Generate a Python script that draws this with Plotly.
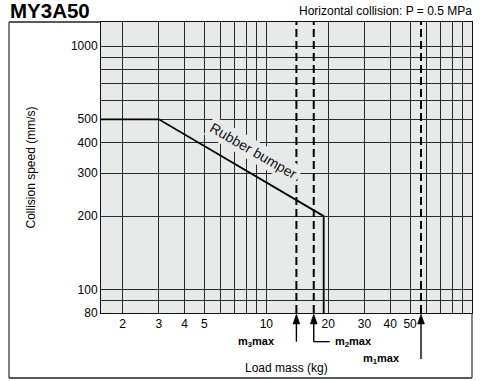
import math
import plotly.graph_objects as go

# ---- data ----
x_ticks = [2, 3, 4, 5, 10, 20, 30, 40, 50]
x_labels = ["2", "3", "4", "5", "10", "20", "30", "40", "50"]
x_minor = [6, 7, 8, 9, 60, 70, 80, 90]
y_ticks = [80, 100, 200, 300, 400, 500, 1000]
y_labels = ["80", "100", "200", "300", "400", "500", "1000"]
y_minor = [90, 600, 700, 800, 900]

bumper_mass = [1.57, 3, 19, 19]
bumper_speed = [500, 500, 200, 80]

limit_names = ["m<sub>3</sub>max", "m<sub>2</sub>max", "m<sub>1</sub>max"]
limit_mass = [14, 17, 56.5]

x_range = [1.57, 100]
y_range = [80, 1255]

FONT = "Liberation Sans, Arial, sans-serif"
PLOT_BG = "#e8e9e9"
GRID = "#2a2a2a"
PH = 291  # plot height in px

fig = go.Figure()

# curve
fig.add_trace(go.Scatter(x=bumper_mass, y=bumper_speed, mode="lines",
                         line=dict(color="#000", width=1.8), hoverinfo="skip"))
# max mass dashed lines
for m in limit_mass:
    fig.add_trace(go.Scatter(x=[m, m], y=y_range, mode="lines",
                             line=dict(color="#000", width=2, dash="8px,4px"),
                             hoverinfo="skip"))

# Rubber bumper label (with background masking grid)
fig.add_annotation(x=math.log10(8.7), y=math.log10(372), xref="x", yref="y",
                   text="Rubber bumper", showarrow=False, textangle=30,
                   font=dict(family=FONT, size=14, color="#111"),
                   bgcolor=PLOT_BG, borderpad=2)

# leaders for limits
leader_drop = [28.7, 28.7, 46]
leader_dir = [-1, 1, -1]
for name, m, drop, d in zip(limit_names, limit_mass, leader_drop, leader_dir):
    yp = -drop / PH
    # vertical stem
    fig.add_shape(type="line", xref="x", yref="paper", xsizemode="pixel",
                  xanchor=m, x0=0, x1=0, y0=yp, y1=-8 / PH,
                  line=dict(color="#000", width=1.4))
    # arrow head
    fig.add_shape(type="path", xref="x", yref="paper", xsizemode="pixel",
                  ysizemode="pixel", xanchor=m, yanchor=0,
                  path="M0,-1 L-3.5,-11 L3.5,-11 Z",
                  fillcolor="#000", line=dict(color="#000", width=0.5))
    # horizontal leader
    fig.add_shape(type="line", xref="x", yref="paper", xsizemode="pixel",
                  xanchor=m, x0=0, x1=16 * d, y0=yp, y1=yp,
                  line=dict(color="#000", width=1.3))
    fig.add_annotation(x=math.log10(m), y=yp, xref="x", yref="paper",
                       text="<b>" + name + "</b>", showarrow=False,
                       xanchor="left" if d > 0 else "right", yanchor="middle",
                       xshift=19 * d, font=dict(family=FONT, size=11, color="#000"))

# titles
fig.add_annotation(x=(8 - 101) / 371, y=1 + (22 - 11) / PH, xref="paper", yref="paper",
                   text="<b>MY3A50</b>", showarrow=False, xanchor="left", yanchor="middle",
                   font=dict(family=FONT, size=20.5, color="#000"))
fig.add_annotation(x=1, y=1 + (22 - 11) / PH, xref="paper", yref="paper",
                   text="Horizontal collision: P = 0.5 MPa", showarrow=False,
                   xanchor="right", yanchor="middle", xshift=2,
                   font=dict(family=FONT, size=12, color="#000"))
fig.add_annotation(x=(30 - 101) / 371, y=0.5, xref="paper", yref="paper",
                   text="Collision speed (mm/s)", showarrow=False, textangle=-90,
                   xanchor="center", yanchor="middle",
                   font=dict(family=FONT, size=12, color="#000"))
fig.add_annotation(x=0.5, y=-(368 - 313) / PH, xref="paper", yref="paper",
                   text="Load mass (kg)", showarrow=False, xanchor="center", yanchor="middle",
                   font=dict(family=FONT, size=12, color="#000"))

# outer frame
fl = (9 - 101) / 371
fb = -(378 - 313) / PH
fig.add_shape(type="line", xref="paper", yref="paper", x0=fl, x1=fl, y0=fb, y1=1,
              line=dict(color="#808080", width=2))
fig.add_shape(type="line", xref="paper", yref="paper", x0=fl, x1=1, y0=fb, y1=fb,
              line=dict(color="#222", width=1.5))
fig.add_shape(type="line", xref="paper", yref="paper", x0=1, x1=1, y0=fb, y1=0,
              line=dict(color="#444", width=1.3))
fig.add_shape(type="line", xref="paper", yref="paper", x0=fl, x1=0, y0=1, y1=1,
              line=dict(color="#222", width=1.3))

fig.update_xaxes(type="log", range=[math.log10(v) for v in x_range],
                 tickmode="array", tickvals=x_ticks, ticktext=x_labels,
                 showgrid=True, gridcolor=GRID, gridwidth=1,
                 minor=dict(tickmode="array", tickvals=x_minor, showgrid=True,
                            gridcolor=GRID, gridwidth=1, ticks=""),
                 showline=True, mirror=True, linecolor="#111", linewidth=1,
                 ticks="", zeroline=False,
                 tickfont=dict(family=FONT, size=12, color="#000"))
fig.update_yaxes(type="log", range=[math.log10(v) for v in y_range],
                 tickmode="array", tickvals=y_ticks, ticktext=y_labels,
                 showgrid=True, gridcolor=GRID, gridwidth=1,
                 minor=dict(tickmode="array", tickvals=y_minor, showgrid=True,
                            gridcolor=GRID, gridwidth=1, ticks=""),
                 showline=True, mirror=True, linecolor="#111", linewidth=1,
                 ticks="", zeroline=False,
                 tickfont=dict(family=FONT, size=12, color="#000"))

fig.update_layout(width=480, height=381, margin=dict(l=101, r=8, t=22, b=68),
                  plot_bgcolor=PLOT_BG, paper_bgcolor="#fff", showlegend=False,
                  font=dict(family=FONT))

fig.write_html("out.html", config={"displayModeBar": False},
               post_script="document.body.style.margin='0';document.body.style.overflow='hidden';")
